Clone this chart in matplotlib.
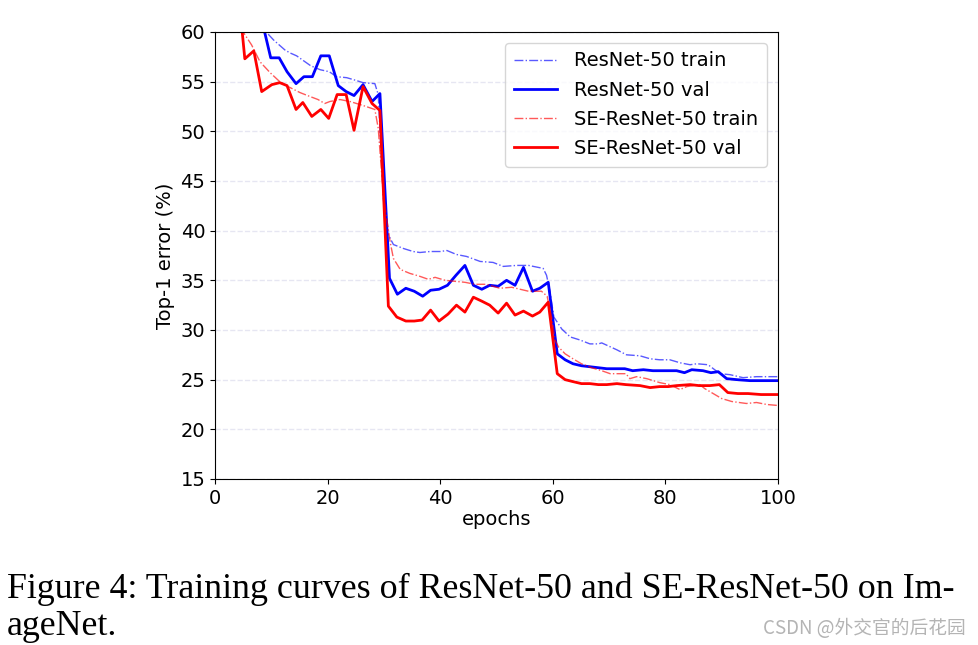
import matplotlib.pyplot as plt

# ResNet-50 train (dash-dot)
r50_train_ep = [8.0, 8.6, 10.4, 12.4, 13.3, 14.5, 15.5, 17.0, 18.7, 20.3, 21.6, 23.4, 25.2,
                26.3, 28.4, 29.0, 29.9, 30.5, 31.7, 33.5, 35.2, 36.4, 38.2, 40.0, 41.2,
                42.9, 44.7, 47.1, 49.4, 51.2, 53.6, 55.7, 58.3, 58.9, 59.5, 60.2, 61.6,
                63.1, 64.8, 66.6, 68.1, 68.7, 71.4, 73.1, 75.5, 77.3, 79.0, 80.8, 82.6,
                84.4, 85.6, 87.6, 89.7, 91.5, 93.8, 96.2, 100.0]
r50_train = [61.0, 60.3, 59.2, 58.2, 57.9, 57.6, 57.2, 56.6, 56.2, 56.0, 55.5, 55.4, 55.1,
             54.9, 54.8, 53.7, 43.3, 39.9, 38.6, 38.2, 37.9, 37.8, 37.9, 37.9, 38.0,
             37.6, 37.4, 36.9, 36.8, 36.4, 36.5, 36.5, 36.2, 35.5, 33.9, 31.3, 30.1,
             29.3, 29.0, 28.6, 28.6, 28.7, 28.0, 27.5, 27.4, 27.1, 27.0, 27.0, 26.7,
             26.5, 26.6, 26.5, 25.6, 25.5, 25.2, 25.3, 25.3]

# ResNet-50 val
r50_val_ep = [8.4, 9.9, 11.4, 12.8, 14.4, 15.8, 17.3, 18.8, 20.3, 21.9, 23.3, 24.7, 26.3,
              27.9, 29.3, 31.0, 32.4, 33.9, 35.4, 36.9, 38.3, 39.8, 41.3, 42.8, 44.4,
              45.9, 47.4, 48.8, 50.3, 51.8, 53.3, 54.8, 56.4, 57.7, 59.2, 60.8, 62.2,
              63.6, 65.1, 66.6, 68.1, 69.6, 71.0, 72.8, 74.2, 76.1, 77.8, 79.6, 82.0,
              83.4, 84.7, 86.7, 88.1, 89.4, 90.9, 92.7, 95.0, 100.0]
r50_val = [61.0, 57.4, 57.4, 56.0, 54.8, 55.5, 55.5, 57.6, 57.6, 54.6, 54.0, 53.6, 54.7,
           53.0, 53.8, 35.2, 33.6, 34.2, 33.9, 33.4, 34.0, 34.1, 34.5, 35.5, 36.5,
           34.5, 34.1, 34.5, 34.4, 35.0, 34.5, 36.3, 33.9, 34.2, 34.8, 27.6, 27.0,
           26.6, 26.4, 26.3, 26.2, 26.1, 26.1, 26.1, 25.9, 26.0, 25.9, 25.9, 25.9,
           25.7, 26.0, 25.9, 25.7, 25.8, 25.1, 25.0, 24.9, 24.9]

# SE-ResNet-50 train (dash-dot)
se_train_ep = [4.3, 5.0, 6.5, 8.0, 9.8, 11.5, 13.0, 15.1, 16.9, 18.3, 19.5, 20.4, 22.2,
               24.0, 26.3, 28.4, 29.0, 29.9, 31.1, 31.7, 32.9, 34.6, 36.4, 37.9, 39.1,
               40.9, 42.6, 44.4, 46.2, 48.2, 50.6, 52.7, 55.7, 58.0, 59.0, 59.8, 60.4,
               61.0, 62.2, 63.6, 65.1, 66.9, 68.7, 70.2, 71.9, 73.0, 73.7, 74.9, 76.7,
               79.0, 80.8, 82.6, 83.8, 86.1, 87.0, 88.8, 90.0, 91.8, 94.4, 96.2, 98.0,
               100.0]
se_train = [62.0, 60.0, 58.7, 57.0, 55.9, 55.0, 54.5, 53.9, 53.5, 53.2, 52.8, 53.0, 53.2,
            53.0, 52.6, 52.2, 50.3, 43.6, 38.9, 37.2, 36.1, 35.7, 35.4, 35.1, 35.3,
            35.0, 34.9, 34.8, 34.6, 34.6, 34.2, 34.3, 33.9, 33.9, 33.4, 31.3, 29.0,
            28.3, 27.6, 27.1, 26.6, 26.2, 25.9, 25.6, 25.6, 25.6, 25.1, 25.3, 25.1,
            24.7, 24.5, 24.0, 24.3, 24.5, 24.1, 23.5, 23.1, 22.8, 22.6, 22.7, 22.5,
            22.4]

# SE-ResNet-50 val
se_val_ep = [3.8, 5.3, 6.9, 8.3, 10.1, 11.5, 12.8, 14.4, 15.6, 17.2, 18.8, 20.2, 21.7,
             23.3, 24.7, 26.3, 27.9, 29.3, 30.8, 32.3, 33.9, 35.4, 36.8, 38.3, 39.8,
             41.4, 42.9, 44.4, 45.9, 47.4, 48.8, 50.3, 51.8, 53.3, 54.8, 56.4, 57.7,
             59.2, 60.8, 62.2, 63.6, 65.1, 66.6, 68.1, 69.6, 71.4, 73.0, 75.5, 77.3,
             79.0, 80.5, 82.0, 84.4, 86.0, 87.9, 89.6, 91.1, 92.9, 94.7, 97.0, 100.0]
se_val = [66.0, 57.3, 58.1, 54.0, 54.7, 54.9, 54.6, 52.2, 52.9, 51.5, 52.2, 51.3, 53.7,
          53.7, 50.1, 54.5, 52.8, 52.1, 32.4, 31.3, 30.9, 30.9, 31.0, 32.0, 30.9,
          31.6, 32.5, 31.8, 33.3, 32.9, 32.5, 31.7, 32.7, 31.5, 31.9, 31.4, 31.8,
          32.8, 25.6, 25.0, 24.8, 24.6, 24.6, 24.5, 24.5, 24.6, 24.5, 24.4, 24.2,
          24.3, 24.3, 24.4, 24.5, 24.4, 24.4, 24.5, 23.7, 23.6, 23.6, 23.5, 23.5]

fig = plt.figure(figsize=(9.79, 6.45), dpi=100)
ax = fig.add_axes([0.2196, 0.2574, 0.575, 0.693])

ax.plot(r50_train_ep, r50_train, '-.', color='blue', alpha=0.65, lw=1.0, label='ResNet-50 train')
ax.plot(r50_val_ep, r50_val, '-', color='blue', lw=2.0, label='ResNet-50 val')
ax.plot(se_train_ep, se_train, '-.', color='red', alpha=0.65, lw=1.0, label='SE-ResNet-50 train')
ax.plot(se_val_ep, se_val, '-', color='red', lw=2.0, label='SE-ResNet-50 val')

ax.set_xlim(0, 100)
ax.set_ylim(15, 60)
ax.set_yticks(range(15, 61, 5))
ax.set_xticks(range(0, 101, 20))
ax.yaxis.grid(True, ls='--', color='#e6e6f2', lw=1.0)
ax.tick_params(labelsize=14)
ax.set_xlabel('epochs', fontsize=14, labelpad=2)
ax.set_ylabel('Top-1 error (%)', fontsize=14)
ax.legend(loc='upper right', fontsize=14, handlelength=2.2, labelspacing=0.52,
          borderpad=0.45, handletextpad=0.9, borderaxespad=0.55)

fig.text(0.007, 0.0725, 'Figure 4: Training curves of ResNet-50 and SE-ResNet-50 on Im-',
         family='Liberation Serif', fontsize=25.8, va='baseline')
fig.text(0.007, 0.0155, 'ageNet.', family='Liberation Serif', fontsize=25.8, va='baseline')
fig.text(0.986, 0.0175, 'CSDN @外交官的后花园', family=['Noto Sans CJK SC', 'DejaVu Sans'],
         fontsize=13.5, color='#b4b4b4', ha='right', va='baseline')

fig.savefig('out.png', dpi=100)
